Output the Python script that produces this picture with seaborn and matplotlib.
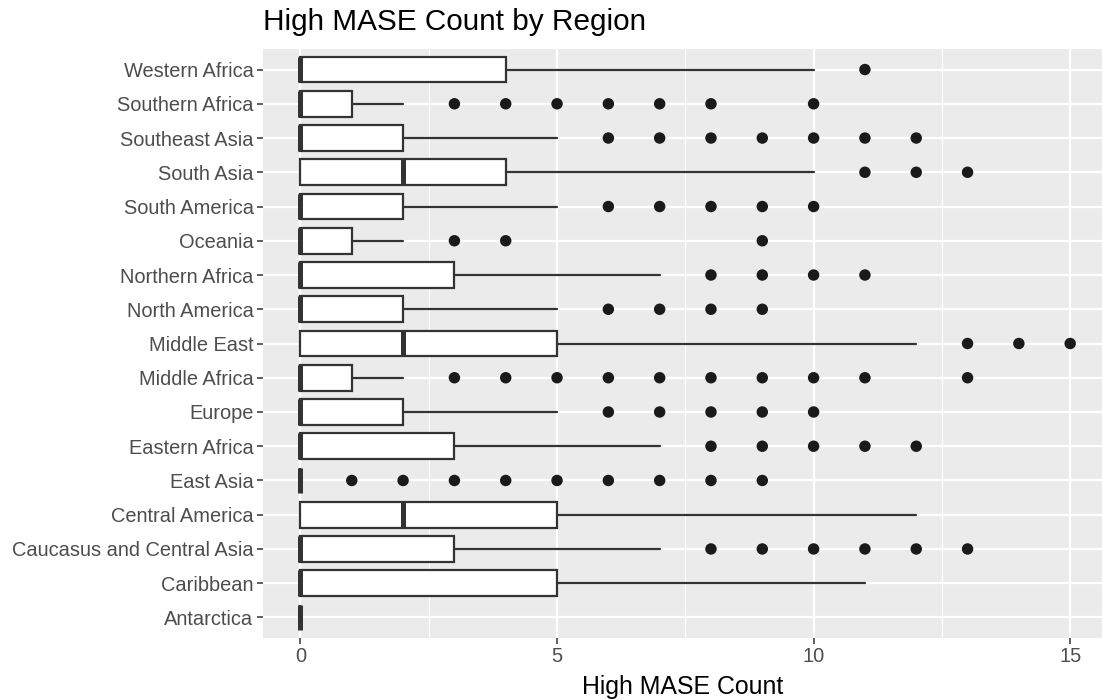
import numpy as np
import pandas as pd
import matplotlib
matplotlib.use("Agg")
import matplotlib.pyplot as plt
import seaborn as sns

# ---- data (bottom to top) ----
regions = ["Antarctica", "Caribbean", "Caucasus and Central Asia", "Central America",
           "East Asia", "Eastern Africa", "Europe", "Middle Africa", "Middle East",
           "North America", "Northern Africa", "Oceania", "South America", "South Asia",
           "Southeast Asia", "Southern Africa", "Western Africa"]
q1 = [0, 0, 0, 0, 0, 0, 0, 0, 0, 0, 0, 0, 0, 0, 0, 0, 0]
median = [0, 0, 0, 2, 0, 0, 0, 0, 2, 0, 0, 0, 0, 2, 0, 0, 0]
q3 = [0, 5, 3, 5, 0, 3, 2, 1, 5, 2, 3, 1, 2, 4, 2, 1, 4]
whisker_low = [0, 0, 0, 0, 0, 0, 0, 0, 0, 0, 0, 0, 0, 0, 0, 0, 0]
whisker_high = [0, 11, 7, 12, 0, 7, 5, 2, 12, 5, 7, 2, 5, 10, 5, 2, 10]
outliers = [
    [],                                 # Antarctica
    [],                                 # Caribbean
    [8, 9, 10, 11, 12, 13],             # Caucasus and Central Asia
    [],                                 # Central America
    [1, 2, 3, 4, 5, 6, 7, 8, 9],        # East Asia
    [8, 9, 10, 11, 12],                 # Eastern Africa
    [6, 7, 8, 9, 10],                   # Europe
    [3, 4, 5, 6, 7, 8, 9, 10, 11, 13],  # Middle Africa
    [13, 14, 15],                       # Middle East
    [6, 7, 8, 9],                       # North America
    [8, 9, 10, 11],                     # Northern Africa
    [3, 4, 9],                          # Oceania
    [6, 7, 8, 9, 10],                   # South America
    [11, 12, 13],                       # South Asia
    [6, 7, 8, 9, 10, 11, 12],           # Southeast Asia
    [3, 4, 5, 6, 7, 8, 10],             # Southern Africa
    [11],                               # Western Africa
]
x_ticks = [0, 5, 10, 15]
title = "High MASE Count by Region"
x_label = "High MASE Count"

# ---- style ----
sns.set_theme(style="darkgrid")
plt.rcParams["font.family"] = ["Liberation Sans", "DejaVu Sans"]

W, H = 1102, 700
fig = plt.figure(figsize=(W / 100, H / 100), dpi=100)
left, right, top, bottom = 263, 1102, 49, 638
ax = fig.add_axes([left / W, 1 - bottom / H, (right - left) / W, (bottom - top) / H])
ax.set_facecolor("#EBEBEB")
for s in ax.spines.values():
    s.set_visible(False)

positions = np.arange(1, len(regions) + 1)
stats = []
for i, r in enumerate(regions):
    stats.append(dict(label=r, q1=q1[i], med=median[i], q3=q3[i],
                      whislo=whisker_low[i], whishi=whisker_high[i], fliers=[]))

outline = "#333333"
ax.bxp(stats, positions=positions, widths=0.75, orientation="horizontal",
       patch_artist=True, showcaps=False, showfliers=False,
       boxprops=dict(facecolor="white", edgecolor=outline, linewidth=1.6),
       whiskerprops=dict(color=outline, linewidth=1.6),
       medianprops=dict(color=outline, linewidth=3.6, solid_capstyle="butt"),
       zorder=3)

# outliers through seaborn
out_df = pd.DataFrame([(v, positions[i]) for i, vals in enumerate(outliers) for v in vals],
                      columns=["value", "pos"])
sns.scatterplot(data=out_df, x="value", y="pos", ax=ax, color="#1a1a1a",
                s=68, edgecolor="none", zorder=4, legend=False)

# scales
ax.set_xlim(-0.73, 15.62)
ax.set_ylim(0.4, len(regions) + 0.6)
ax.set_xticks(x_ticks)
ax.set_xticklabels([str(t) for t in x_ticks])
ax.set_xticks([2.5, 7.5, 12.5], minor=True)
ax.set_yticks(positions)
ax.set_yticklabels(regions)
ax.set_xlabel("")
ax.set_ylabel("")

ax.grid(False)
ax.grid(True, which="major", axis="both", color="white", linewidth=1.6, zorder=0)
ax.grid(True, which="minor", axis="x", color="white", linewidth=0.8, zorder=0)
ax.set_axisbelow(True)

ax.tick_params(axis="both", which="major", length=4.3, width=1.1, color=outline,
               labelsize=14.45, labelcolor="#4D4D4D", pad=2.5, bottom=True, left=True)
ax.tick_params(axis="both", which="minor", length=0)

fig.text(left / W, 1 - 30 / H, title, fontsize=21.45, color="black",
         ha="left", va="baseline")
fig.text((left + right) / 2 / W, 1 - 694 / H, x_label, fontsize=17.95, color="black",
         ha="center", va="baseline")

fig.savefig("out.png", dpi=100)
